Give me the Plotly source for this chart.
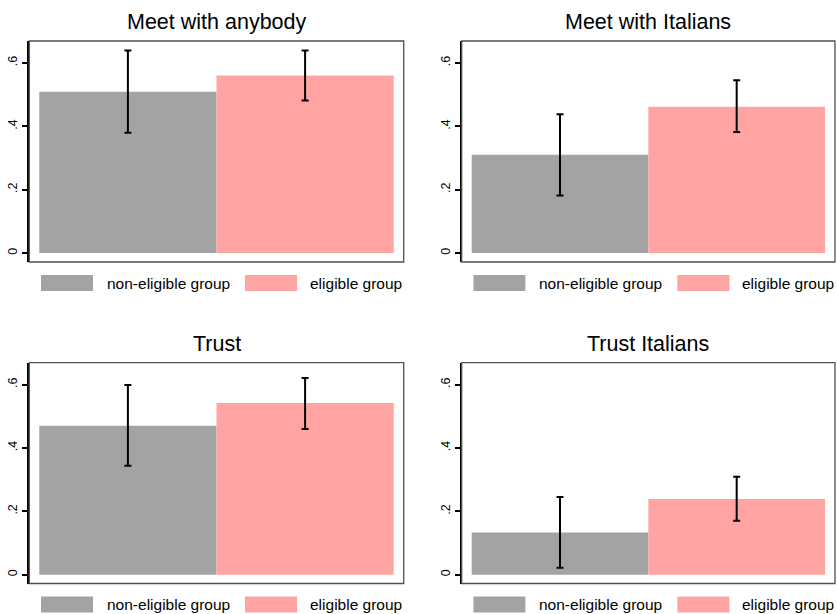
import plotly.graph_objects as go

# ---- data ----
panel_titles = ["Meet with anybody", "Meet with Italians", "Trust", "Trust Italians"]
groups = ["non-eligible group", "eligible group"]
means_noneligible = [0.509, 0.310, 0.470, 0.133]
means_eligible = [0.560, 0.462, 0.542, 0.239]
ci_low_noneligible = [0.380, 0.182, 0.344, 0.022]
ci_high_noneligible = [0.639, 0.438, 0.599, 0.245]
ci_low_eligible = [0.481, 0.382, 0.460, 0.170]
ci_high_eligible = [0.639, 0.545, 0.621, 0.309]
y_tickvals = [0, 0.2, 0.4, 0.6]
y_ticktext = ["0", ".2", ".4", ".6"]

W, H = 837, 614
colors = ["#A3A3A3", "#FFA3A3"]

# panel pixel boxes: (left, right, top, bottom)
boxes = [
    (29.3, 403.7, 41, 262),
    (461.7, 835.0, 41, 262),
    (29.3, 403.7, 362.7, 583.5),
    (461.7, 835.0, 362.7, 583.5),
]

fig = go.Figure()
font_family = "Liberation Sans, Arial, Helvetica, sans-serif"

for i in range(4):
    l, r, t, b = boxes[i]
    ax = "" if i == 0 else str(i + 1)
    xa, ya = "x" + ax, "y" + ax
    series = [
        (means_noneligible[i], ci_low_noneligible[i], ci_high_noneligible[i]),
        (means_eligible[i], ci_low_eligible[i], ci_high_eligible[i]),
    ]
    for g, (m, lo, hi) in enumerate(series):
        fig.add_trace(go.Bar(
            x=[g], y=[m], width=[1.0], xaxis=xa, yaxis=ya,
            marker=dict(color=colors[g], line=dict(width=0)),
            error_y=dict(type="data", symmetric=False, array=[hi - m], arrayminus=[m - lo],
                         color="black", thickness=2, width=3.5),
            showlegend=False, name=groups[g],
        ))
    pad = 10 / ((r - l - 20) / 2)
    fig.layout["xaxis" + ax] = dict(
        domain=[l / W, r / W], range=[-0.5 - pad, 1.5 + pad], anchor=ya,
        showgrid=False, zeroline=False, showticklabels=False, ticks="", showline=False,
        fixedrange=True,
    )
    fig.layout["yaxis" + ax] = dict(
        domain=[1 - b / H, 1 - t / H], range=[-0.028, 0.669], anchor=xa,
        showgrid=False, zeroline=False, tickvals=y_tickvals, ticktext=y_ticktext,
        tickangle=-90, ticks="outside", ticklen=5, tickwidth=1.5, tickcolor="black",
        tickfont=dict(size=12.5, color="black", family=font_family),
        showline=True, linecolor="black", linewidth=2, fixedrange=True,
    )
    # frame
    fig.add_shape(type="rect", xref="paper", yref="paper",
                  x0=l / W, x1=r / W, y0=1 - b / H, y1=1 - t / H,
                  line=dict(color="#505050", width=1.3), fillcolor="rgba(0,0,0,0)", layer="above")
    # title
    fig.add_annotation(text=panel_titles[i], xref="paper", yref="paper",
                       x=(l + r) / 2 / W, y=1 - (t - 19) / H, showarrow=False,
                       xanchor="center", yanchor="middle",
                       font=dict(size=21.5, color="black", family=font_family))
    # legend
    ly0, ly1 = b + 13, b + 29
    for g, (bx0, tx) in enumerate([(11.7, 75.7), (215.7, 278.7)]):
        fig.add_shape(type="rect", xref="paper", yref="paper",
                      x0=(l + bx0) / W, x1=(l + bx0 + 52) / W, y0=1 - ly1 / H, y1=1 - ly0 / H,
                      line=dict(width=0), fillcolor=colors[g])
        fig.add_annotation(text=groups[g], xref="paper", yref="paper",
                           x=(l + tx) / W, y=1 - (ly0 + ly1) / 2 / H, showarrow=False,
                           xanchor="left", yanchor="middle",
                           font=dict(size=15.5, color="black", family=font_family))

fig.update_layout(
    width=W, height=H, margin=dict(l=0, r=0, t=0, b=0),
    paper_bgcolor="white", plot_bgcolor="white", barmode="overlay",
    showlegend=False,
)
fig.write_html("out.html", config={"displayModeBar": False},
               post_script="document.body.style.margin='0';document.body.style.overflow='hidden';")
